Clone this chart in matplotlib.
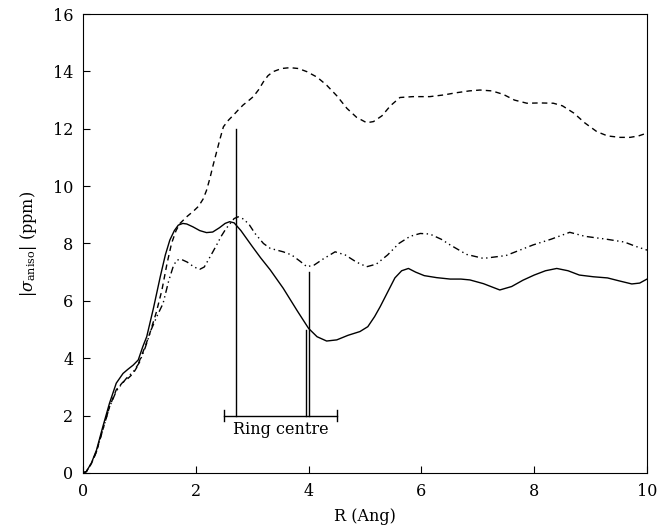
import numpy as np
import matplotlib.pyplot as plt

plt.rcParams['font.family'] = 'DejaVu Serif'
plt.rcParams['mathtext.fontset'] = 'dejavuserif'

# curva continua
r_solid = [0, 0.06, 0.15, 0.24, 0.35, 0.47, 0.59, 0.71, 0.8, 0.89, 0.98, 1.06, 1.13,
           1.25, 1.37, 1.46, 1.54, 1.62, 1.69, 1.77, 1.84, 1.95, 2.07, 2.19, 2.3, 2.42,
           2.52, 2.6, 2.68, 2.8, 3.0, 3.15, 3.32, 3.55, 3.8, 4.0, 4.15, 4.32, 4.5, 4.7,
           4.91, 5.05, 5.17, 5.27, 5.4, 5.53, 5.65, 5.77, 5.9, 6.05, 6.27, 6.51, 6.7,
           6.86, 7.1, 7.39, 7.6, 7.8, 8.0, 8.2, 8.4, 8.6, 8.8, 9.05, 9.3, 9.5, 9.73,
           9.87, 10]
s_solid = [0, 0.05, 0.35, 0.8, 1.6, 2.43, 3.13, 3.47, 3.62, 3.76, 3.94, 4.4, 4.75,
           5.75, 6.84, 7.6, 8.12, 8.45, 8.64, 8.70, 8.68, 8.58, 8.45, 8.38, 8.4, 8.55,
           8.7, 8.76, 8.72, 8.45, 7.9, 7.5, 7.08, 6.44, 5.65, 5.04, 4.75, 4.6, 4.64, 4.8,
           4.93, 5.1, 5.45, 5.8, 6.3, 6.8, 7.05, 7.13, 7.0, 6.88, 6.81, 6.76, 6.76,
           6.73, 6.6, 6.38, 6.5, 6.72, 6.9, 7.05, 7.13, 7.05, 6.9, 6.84, 6.8, 6.7, 6.59,
           6.62, 6.76]

# curva tracejada
r_dash = [0, 0.06, 0.15, 0.24, 0.35, 0.47, 0.59, 0.7, 0.8, 0.89, 0.96, 1.03, 1.11,
          1.19, 1.3, 1.4, 1.49, 1.57, 1.65, 1.72, 1.85, 1.96, 2.05, 2.13, 2.19, 2.25,
          2.31, 2.37, 2.43, 2.49, 2.58, 2.67, 2.75, 2.84, 2.93, 3.02, 3.11, 3.2, 3.28,
          3.37, 3.52, 3.67, 3.82, 3.97, 4.15, 4.32, 4.5, 4.68, 4.85, 5.03, 5.15, 5.3,
          5.45, 5.62, 5.85, 6.15, 6.4, 6.6, 6.85, 7.04, 7.25, 7.45, 7.65, 7.87, 8.1,
          8.34, 8.5, 8.7, 8.9, 9.11, 9.3, 9.52, 9.7, 9.85, 10]
s_dash = [0, 0.05, 0.33, 0.75, 1.5, 2.3, 2.9, 3.15, 3.3, 3.47, 3.7, 4.05, 4.45,
          4.9, 5.6, 6.38, 7.3, 8.0, 8.45, 8.7, 8.95, 9.13, 9.3, 9.55, 9.85, 10.27,
          10.75, 11.2, 11.65, 12.07, 12.3, 12.48, 12.65, 12.83, 12.97, 13.12, 13.35, 13.64, 13.85,
          13.99, 14.1, 14.13, 14.1, 13.99, 13.8, 13.52, 13.15, 12.71, 12.4, 12.21, 12.25, 12.45,
          12.8, 13.09, 13.12, 13.12, 13.18, 13.25, 13.32, 13.35, 13.32, 13.2, 13.0, 12.89, 12.9,
          12.89, 12.8, 12.55, 12.2, 11.9, 11.75, 11.7, 11.7, 11.75, 11.85]

# curva traco-ponto
r_dd = [0, 0.06, 0.15, 0.24, 0.35, 0.47, 0.59, 0.65, 0.77, 0.9, 1.0, 1.1, 1.21,
        1.32, 1.42, 1.52, 1.6, 1.66, 1.74, 1.85, 1.97, 2.07, 2.15, 2.22, 2.3, 2.37,
        2.45, 2.53, 2.61, 2.68, 2.75, 2.85, 2.95, 3.05, 3.2, 3.32, 3.55, 3.7, 3.85,
        3.97, 4.1, 4.25, 4.47, 4.65, 4.85, 5.03, 5.2, 5.4, 5.6, 5.8, 5.98, 6.15, 6.35,
        6.51, 6.8, 7.1, 7.5, 7.98, 8.3, 8.63, 8.9, 9.28, 9.6, 9.8, 10]
s_dd = [0, 0.05, 0.33, 0.75, 1.5, 2.3, 2.85, 3.01, 3.3, 3.55, 3.85, 4.35, 5.0,
        5.5, 5.91, 6.7, 7.2, 7.42, 7.45, 7.35, 7.18, 7.1, 7.18, 7.42, 7.7, 7.95,
        8.25, 8.5, 8.7, 8.87, 8.93, 8.85, 8.65, 8.35, 8.0, 7.83, 7.71, 7.6, 7.38,
        7.19, 7.25, 7.45, 7.71, 7.6, 7.35, 7.19, 7.28, 7.6, 8.0, 8.25, 8.35, 8.33, 8.15,
        7.95, 7.62, 7.48, 7.58, 7.95, 8.15, 8.39, 8.25, 8.15, 8.05, 7.9, 7.77]

# marcadores do centro do anel
ring_span = [2.5, 4.5]
ring_level = 2.0
ring_x = [2.71, 3.95, 4.01]
ring_top = [12.0, 5.0, 7.0]

fig = plt.figure(figsize=(6.58, 5.29), dpi=100)
ax = fig.add_axes([0.1261, 0.1059, 0.8572, 0.8676])

ax.plot(r_solid, s_solid, color='black', lw=1.0)
ax.plot(r_dash, s_dash, color='black', lw=1.0, linestyle=(0, (4, 3)))
ax.plot(r_dd, s_dd, color='black', lw=1.0, linestyle=(0, (5, 2.5, 1, 2.5, 1, 2.5)))

ax.plot(ring_span, [ring_level, ring_level], color='black', lw=1.0)
for xc in ring_span:
    ax.plot([xc, xc], [ring_level - 0.2, ring_level + 0.2], color='black', lw=1.0)
for xr, yt in zip(ring_x, ring_top):
    ax.plot([xr, xr], [ring_level, yt], color='black', lw=1.0)
ax.text(np.mean(ring_span), ring_level - 0.2, 'Ring centre', ha='center', va='top',
        fontsize=11.5)

ax.set_xlim(0, 10)
ax.set_ylim(0, 16)
ax.set_xticks([0, 2, 4, 6, 8, 10])
ax.set_yticks([0, 2, 4, 6, 8, 10, 12, 14, 16])
ax.tick_params(direction='in', length=5, labelsize=11.5, top=False, right=False, pad=7)
ax.set_xlabel('R (Ang)', fontsize=11.5, labelpad=6)
ax.set_ylabel(r'$|\sigma_{\rm aniso}|$ (ppm)', fontsize=11.5, labelpad=10)

fig.savefig('out.png', dpi=100)
